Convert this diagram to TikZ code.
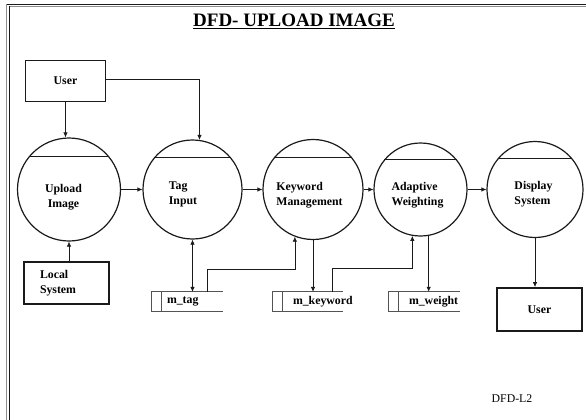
\documentclass[tikz,border=0pt]{standalone}
\usepackage{fontspec}
\setmainfont{Liberation Serif}
\usetikzlibrary{arrows.meta,positioning,calc}
\definecolor{DfdGray}{HTML}{8C8C8C}
\definecolor{DfdInk}{HTML}{1A1A1A}
\tikzset{
  process/.style={circle,draw=DfdInk,line width=1.2pt,inner sep=0pt,minimum size=#1},
  process/.default=100pt,
  ptext/.style={font=\bfseries\fontsize{11.8}{15}\selectfont,align=left,inner sep=0pt},
  entity/.style={draw=DfdInk,line width=1.8pt,minimum width=81pt,minimum height=41pt,
    font=\bfseries\fontsize{11.8}{15}\selectfont,align=left},
  store/.style={minimum height=19pt,inner ysep=0pt,align=left,
    font=\bfseries\fontsize{11.8}{14}\selectfont},
  storeline/.style={line width=0.9pt,draw=DfdInk!75},
  flow/.style={-{Latex[length=5pt,width=4.5pt]},line width=0.7pt,draw=DfdInk},
  twoway/.style={{Latex[length=5pt,width=4.5pt]}-{Latex[length=5pt,width=4.5pt]},line width=0.7pt,draw=DfdInk}
}
\begin{document}
\begin{tikzpicture}[x=1pt,y=-1pt]
  \useasboundingbox (0,0) rectangle (586,420);
  % page frame
  \draw[line width=0.9pt,DfdInk] (6,4.5) -- (586,4.5);
  \draw[line width=1pt,DfdGray] (9.3,6.5) -- (586,6.5);
  \draw[line width=1.2pt,DfdGray] (6.5,4.5) -- (6.5,420);
  \draw[line width=0.9pt,DfdInk] (9.3,6.5) -- (9.3,420);

  \node[font=\bfseries\fontsize{19}{23}\selectfont] (title) at (294,21) {\underline{DFD- UPLOAD IMAGE}};

  % external entities
  \node[entity,minimum width=80pt,minimum height=41pt] (user1) at (65.5,81) {User};
  \node[entity,minimum width=85pt,minimum height=42pt,text width=53pt,inner xsep=16pt] (local) at (66.5,283) {Local\\System};
  \node[entity,minimum width=85pt,minimum height=43pt] (user2) at (539.5,309.5) {User};

  % processes
  \node[process=103pt,label={[name=uplbl,ptext,align=center,xshift=-5.5pt,yshift=-8pt]center:Upload\\Image}] (up) at (69,189.5) {};
  \node[process=99pt,label={[name=taglbl,ptext,xshift=-9.5pt,yshift=-5pt]center:Tag\\Input}] (tag) at (192.5,189.5) {};
  \node[process=100pt,label={[name=kwlbl,ptext,xshift=-3.5pt,yshift=-6pt]center:Keyword\\Management}] (kw) at (313,189.5) {};
  \node[process=93pt,label={[name=adlbl,ptext,xshift=-3pt,yshift=-6pt]center:Adaptive\\Weighting}] (adapt) at (420.5,189.5) {};
  \node[process=96pt,label={[name=displbl,ptext,xshift=-1.5pt,yshift=-4.5pt]center:Display\\System}] (disp) at (535,189.5) {};
  \foreach \c in {up,tag,kw,adapt,disp}
    \draw[line width=0.8pt,DfdInk] (\c.140) -- (\c.40);

  % data stores
  \node[store,text width=41pt,inner xsep=15pt] (mtag) at (187.5,301.5) {m\_tag};
  \node[store,text width=30pt,inner xsep=20pt] (mkw) at (308,301.5) {m\_keyword};
  \node[store,text width=31pt,inner xsep=20pt] (mwt) at (424.5,301.5) {m\_weight};
  \foreach \s in {mtag,mkw,mwt}
    \draw[storeline] (\s.north east) -- (\s.north west) -- (\s.south west) -- (\s.south east)
      ([xshift=10pt]\s.north west) -- ([xshift=10pt]\s.south west);

  % flows
  \draw[flow] (user1) -- (user1 |- up.north);
  \draw[flow] ([yshift=2pt]user1.east) -| (tag.82);
  \draw[flow] (up) -- (tag);
  \draw[flow] (tag) -- (kw);
  \draw[flow] (kw) -- (adapt);
  \draw[flow] (adapt) -- (disp);
  \draw[flow] (up.south |- local.north) -- (up.south);
  \draw[twoway] (tag.south) -- (tag.south |- mtag.north);
  \draw[flow] ([xshift=20pt]mtag.north) -- ++(0,-22) -| (kw.-111);
  \draw[flow] (kw.south) -- (kw.south |- mkw.north);
  \draw[flow] ([xshift=24pt]mkw.north) -- ++(0,-23) -| (adapt.-100);
  \draw[flow] (adapt.-80) -- (adapt.-80 |- mwt.north);
  \draw[flow] (disp.south) -- (disp.south |- user2.north);

  \node[font=\fontsize{11.8}{14}\selectfont] (level) at (512,399) {DFD-L2};
\end{tikzpicture}
\end{document}
